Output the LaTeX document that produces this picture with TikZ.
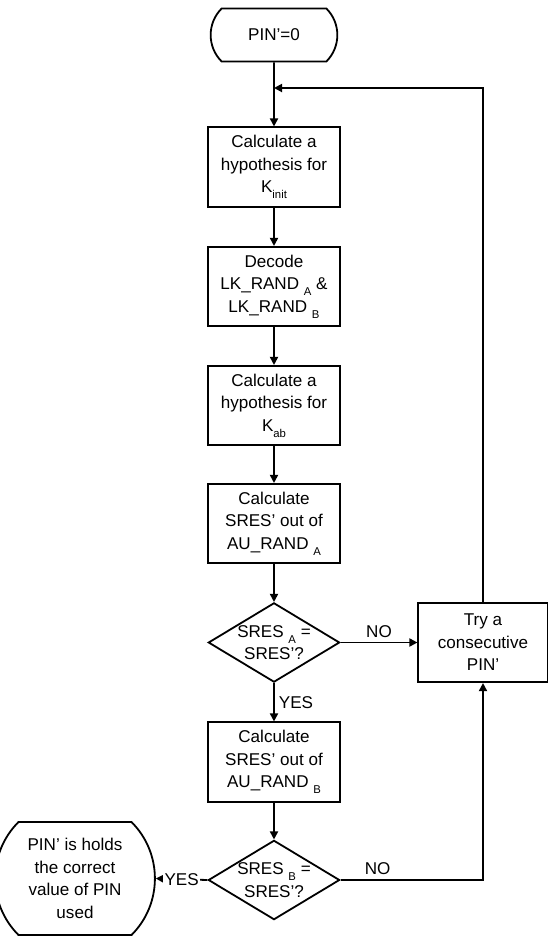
\documentclass[tikz,border=0pt]{standalone}
\usepackage{fontspec}
\setmainfont{Liberation Sans}
\usetikzlibrary{shapes.geometric,shapes.misc,arrows.meta}

\newcommand{\sbs}[1]{\raisebox{-4.5pt}{\fontsize{8.5}{8.5}\selectfont #1}}

\tikzset{every picture/.style={line width=1.35pt}}
\tikzset{
  procbox/.style={draw, rectangle, minimum width=99pt, minimum height=59.5pt, inner sep=0pt, align=center},
  decision/.style={draw, diamond, shape aspect=1.66, minimum width=98.5pt, minimum height=59.5pt, inner sep=0pt, align=center},
  termnode/.style={draw, rounded rectangle, rounded rectangle arc length=90, inner sep=2pt, align=center},
  arr/.style={-{Triangle[length=6pt,width=6pt]}},
  lbl/.style={inner sep=3pt}
}

\begin{document}
\begin{tikzpicture}[x=0.75pt,y=0.75pt,yscale=-1,xscale=1,font=\fontsize{12.8}{16.9}\selectfont]
\useasboundingbox (0,0) rectangle (548,939);

%Flowchart: Terminator
\draw (274,35) node [termnode, minimum width=99pt, minimum height=39.75pt] (start) {PIN’=0};
%Flowchart: Process
\draw (274,167) node [procbox] (hypinit) {Calculate a\\hypothesis for\\K\sbs{init}};
%Flowchart: Process
\draw (274,286.5) node [procbox] (decode) {Decode\\LK\_RAND \sbs{A} \&\\LK\_RAND \sbs{B}};
%Flowchart: Process
\draw (274,405.5) node [procbox] (hypab) {Calculate a\\hypothesis for\\K\sbs{ab}};
%Flowchart: Process
\draw (274,523.5) node [procbox] (sresa) {Calculate\\SRES’ out of\\AU\_RAND \sbs{A}};
%Flowchart: Decision
\draw (274,642.5) node [decision] (cmpa) {SRES \sbs{A} =\\SRES’?};
%Flowchart: Process
\draw (274,762) node [procbox] (sresb) {Calculate\\SRES’ out of\\AU\_RAND \sbs{B}};
%Flowchart: Decision
\draw (274,880) node [decision] (cmpb) {SRES \sbs{B} =\\SRES’?};
%Flowchart: Process
\draw (483,642.5) node [procbox, minimum width=97pt] (trypin) {Try a\\consecutive\\PIN’};
%Flowchart: Terminator
\draw (75,878.5) node [termnode, minimum width=100.5pt, minimum height=84.75pt] (found) {PIN’ is holds\\the correct\\value of PIN\\used};

\coordinate (loopin) at (274,88);

%Connectors
\draw [arr] (start) -- (hypinit);
\draw [arr] (hypinit) -- (decode);
\draw [arr] (decode) -- (hypab);
\draw [arr] (hypab) -- (sresa);
\draw [arr] (sresa) -- (cmpa);
\draw [arr] (cmpa.east) -- node [above, lbl] {NO} (trypin.west);
\draw [arr] (cmpa.south) -- node [right, lbl] {YES} (sresb.north);
\draw [arr] (sresb) -- (cmpb);
\draw [arr] (cmpb.east) -| node [pos=0.13, above, lbl] {NO} (trypin.south);
\draw [arr] (cmpb.west) -- node [fill=white, inner sep=1pt] {YES} (found.east);
\draw [arr] (trypin.north) |- (loopin);

\end{tikzpicture}
\end{document}
